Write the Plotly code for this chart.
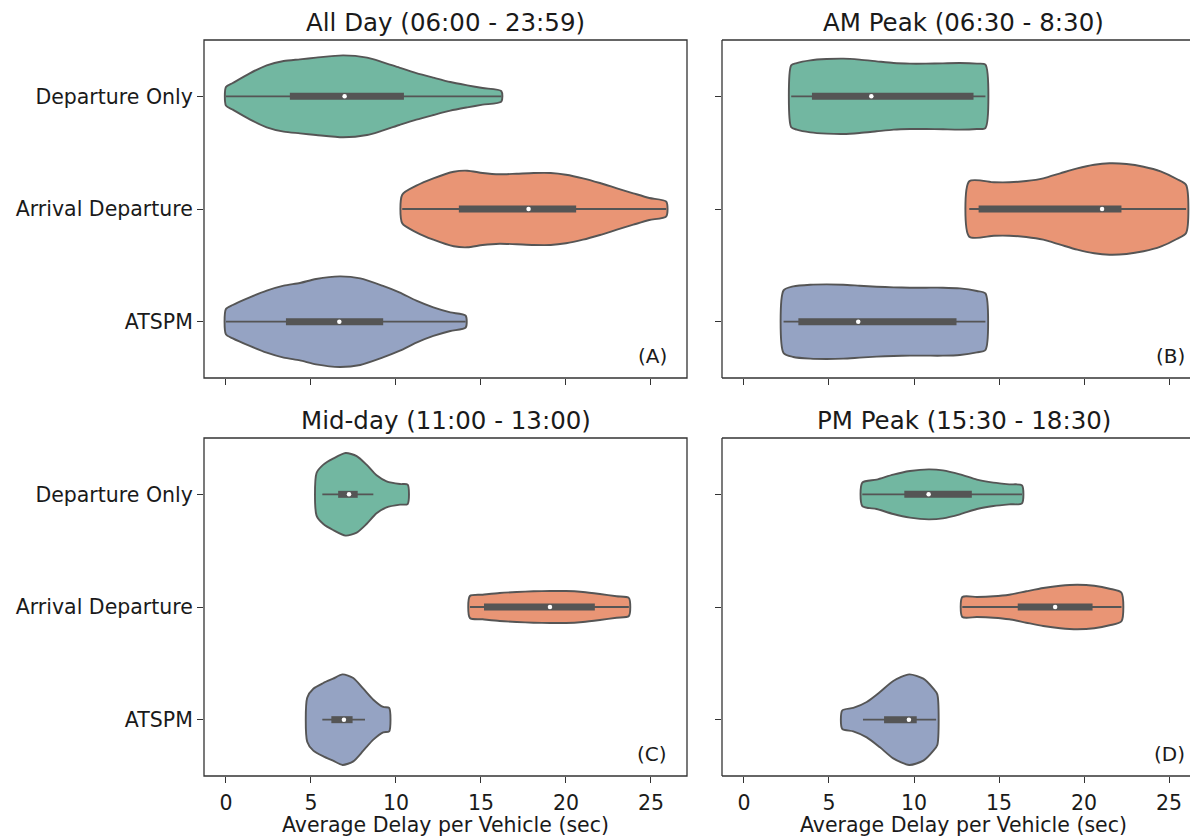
import plotly.graph_objects as go

# ---------------- data ----------------
categories = ["Departure Only", "Arrival Departure", "ATSPM"]
panel_titles = ["All Day (06:00 - 23:59)", "AM Peak (06:30 - 8:30)",
                "Mid-day (11:00 - 13:00)", "PM Peak (15:30 - 18:30)"]
panel_tags = ["(A)", "(B)", "(C)", "(D)"]
x_ticks = [0, 5, 10, 15, 20, 25]
x_label = "Average Delay per Vehicle (sec)"

# violin outlines: delay values and relative density (half-width)
A_dep_x = [0, 0.4, 1.4, 2.4, 3.4, 4.35, 5.3, 6.9, 8.3, 9.2, 10.2, 11.2, 12.2, 13.2, 14.2, 15.1, 16.2]
A_dep_d = [9.3, 13.3, 23, 31, 35.3, 37, 38.7, 41, 38.7, 34.3, 28.7, 23.3, 18.7, 14.3, 11, 8.3, 5.3]
A_arr_x = [10.37, 11.2, 12.2, 13.4, 14.2, 15.1, 16.1, 17.1, 18.1, 19.1, 20.0, 21.0, 22.0, 23.0, 23.96, 24.9, 25.9]
A_arr_d = [14.3, 23.3, 30.7, 37.3, 38.3, 36, 34.7, 35.3, 36, 36, 34.3, 30.7, 26, 20.7, 15.7, 11, 7.3]
A_ats_x = [0, 0.4, 1.4, 2.4, 3.4, 4.35, 5.3, 6.7, 7.9, 9.2, 10.2, 11.2, 12.2, 13.2, 14.1]
A_ats_d = [12.7, 16.7, 24.3, 31, 36, 38.7, 42.7, 45.3, 43.3, 36, 29.3, 21, 14.3, 9.3, 6]

B_dep_x = [2.78, 3.1, 3.9, 4.86, 5.84, 6.8, 7.8, 8.8, 9.76, 10.7, 11.7, 12.7, 13.7, 14.2]
B_dep_d = [31, 33.3, 36, 37.3, 37.7, 36.7, 35, 33.3, 32.7, 32.7, 33, 33.3, 32.7, 31.7]
B_arr_x = [13.25, 14.7, 15.6, 16.6, 17.6, 18.6, 19.6, 20.6, 21.5, 22.5, 23.5, 24.5, 25.45, 26.0]
B_arr_d = [27.7, 26.7, 26.7, 28, 30.7, 35.7, 40.7, 44.3, 45.7, 45, 42.3, 37.7, 30, 24]
B_ats_x = [2.33, 2.9, 3.9, 4.86, 5.84, 6.8, 7.8, 8.8, 9.76, 10.7, 11.7, 12.7, 13.7, 14.2]
B_ats_d = [31.3, 35.3, 37, 37.3, 37, 36, 35, 34.3, 34, 34, 34, 33.3, 30.7, 28.3]

C_dep_x = [5.33, 5.73, 6.3, 7.04, 7.69, 8.27, 8.86, 9.45, 10.24, 10.69]
C_dep_d = [21.3, 29.7, 35.7, 41.3, 38.3, 29.7, 19, 13, 10.3, 9.7]
C_arr_x = [14.35, 15.1, 16.1, 17.1, 18.1, 19.06, 20.0, 21.0, 22.0, 22.98, 23.7]
C_arr_d = [11, 12.3, 14, 15, 15.7, 16, 16, 15, 13, 10.7, 9]
C_ats_x = [4.78, 5.14, 5.73, 6.3, 6.86, 7.49, 8.08, 8.67, 9.25, 9.6]
C_ats_d = [22, 31, 36.7, 41, 45.3, 41.7, 31, 20, 12.7, 11.7]

D_dep_x = [6.96, 7.8, 8.78, 9.76, 10.86, 11.7, 12.7, 13.7, 14.67, 15.6, 16.35]
D_dep_d = [11.7, 14.7, 19.7, 23.3, 25, 24, 20, 14.7, 11.7, 10, 9]
D_arr_x = [12.84, 13.7, 14.67, 15.6, 16.6, 17.6, 18.6, 19.6, 20.6, 21.5, 22.2]
D_arr_d = [10, 10, 10.7, 12.3, 15.7, 19, 21.3, 22.3, 21.3, 18.3, 14.3]
D_ats_x = [5.78, 6.43, 7.22, 8.0, 8.78, 9.72, 10.55, 11.14, 11.37]
D_ats_d = [9.2, 11.7, 17.7, 27.7, 38.7, 45.3, 41, 31, 25.3]

# inner box stats: [whisker low, Q1, median, Q3, whisker high]
A_box = [[0, 3.76, 6.98, 10.47, 16.2], [10.37, 13.7, 17.8, 20.6, 25.9], [0, 3.53, 6.67, 9.25, 14.1]]
B_box = [[2.78, 4.0, 7.49, 13.5, 14.2], [13.25, 13.8, 21.06, 22.2, 26.0], [2.33, 3.2, 6.72, 12.5, 14.2]]
C_box = [[5.67, 6.6, 7.24, 7.75, 8.67], [14.35, 15.18, 19.06, 21.7, 23.7], [5.67, 6.2, 6.94, 7.45, 8.18]]
D_box = [[6.96, 9.43, 10.86, 13.4, 16.35], [12.84, 16.1, 18.3, 20.5, 22.2], [7.0, 8.24, 9.7, 10.16, 11.3]]

panels = [
    [(A_dep_x, A_dep_d), (A_arr_x, A_arr_d), (A_ats_x, A_ats_d)],
    [(B_dep_x, B_dep_d), (B_arr_x, B_arr_d), (B_ats_x, B_ats_d)],
    [(C_dep_x, C_dep_d), (C_arr_x, C_arr_d), (C_ats_x, C_ats_d)],
    [(D_dep_x, D_dep_d), (D_arr_x, D_arr_d), (D_ats_x, D_ats_d)],
]
boxes = [A_box, B_box, C_box, D_box]

# ---------------- style ----------------
FILL = ["#72b7a1", "#e99575", "#95a3c3"]
GRAY = "#555555"
AXC = "#333333"
TXT = "#1a1a1a"
FONT = "DejaVu Sans"
DENS_SCALE = 1 / 112.7  # density units -> category units

OFF = 8  # page body margin in the browser
W, H = 1198 - OFF, 837 - OFF
# panel pixel boxes in window coordinates (left, top, right, bottom)
px_boxes = [(204, 40, 687, 378), (722, 40, 1198, 378),
            (204, 438, 687, 776), (722, 438, 1198, 776)]
x_ranges = [[-1.29, 27.12], [-1.29, 26.7], [-1.29, 27.12], [-1.29, 26.7]]


def fx(px):
    return (px - OFF) / W


def fy(py):
    return 1 - (py - OFF) / H


fig = go.Figure()

for p in range(4):
    sfx = "" if p == 0 else str(p + 1)
    xa, ya = "x" + sfx, "y" + sfx
    for c in range(3):
        xs, ds = panels[p][c]
        hw = [d * DENS_SCALE for d in ds]
        px_ = xs + xs[::-1] + [xs[0]]
        py_ = [c - h for h in hw] + [c + h for h in hw[::-1]] + [c - hw[0]]
        fig.add_trace(go.Scatter(
            x=px_, y=py_, mode="lines", fill="toself", fillcolor=FILL[c],
            line=dict(color=GRAY, width=1.9, shape="spline", smoothing=0.7),
            xaxis=xa, yaxis=ya, showlegend=False, hoverinfo="skip"))
        lo, q1, med, q3, hi = boxes[p][c]
        fig.add_trace(go.Scatter(x=[lo, hi], y=[c, c], mode="lines",
                                 line=dict(color=GRAY, width=1.9),
                                 xaxis=xa, yaxis=ya, showlegend=False, hoverinfo="skip"))
        fig.add_trace(go.Scatter(x=[q1, q3], y=[c, c], mode="lines",
                                 line=dict(color=GRAY, width=7),
                                 xaxis=xa, yaxis=ya, showlegend=False, hoverinfo="skip"))
        fig.add_trace(go.Scatter(x=[med], y=[c], mode="markers",
                                 marker=dict(color="white", size=4.5, line=dict(width=0)),
                                 xaxis=xa, yaxis=ya, showlegend=False,
                                 hovertemplate=f"{categories[c]}<br>median %{{x}}<extra></extra>"))

layout = dict(width=W, height=H, margin=dict(l=0, r=0, t=0, b=0, pad=0, autoexpand=False),
              template=go.layout.Template(),
              paper_bgcolor="white", plot_bgcolor="white",
              font=dict(family=FONT, color=TXT, size=20))
annotations = []
shapes = []
for p in range(4):
    sfx = "" if p == 0 else str(p + 1)
    l, t, r, b = px_boxes[p]
    r = min(r, OFF + W)
    xd = [fx(l), fx(r)]
    yd = [fy(b), fy(t)]
    bottom_row = p >= 2
    left_col = p % 2 == 0
    layout["xaxis" + sfx] = dict(
        domain=xd, range=x_ranges[p], anchor="y" + sfx, automargin=False,
        tickmode="array", tickvals=x_ticks, ticks="outside", ticklen=6, tickwidth=1.3,
        tickcolor=AXC, showticklabels=bottom_row, showgrid=False, zeroline=False,
        showline=False, ticklabelstandoff=2,
        tickfont=dict(size=20.5, family=FONT, color=TXT))
    layout["yaxis" + sfx] = dict(
        domain=yd, range=[2.5, -0.5], anchor="x" + sfx, automargin=False,
        tickmode="array", tickvals=[0, 1, 2], ticktext=categories,
        ticks="outside", ticklen=6, tickwidth=1.3, tickcolor=AXC,
        showticklabels=left_col, showgrid=False, zeroline=False, showline=False,
        tickfont=dict(size=20.5, family=FONT, color=TXT))
    # frame
    xr = "x" + sfx + " domain"
    yr = "y" + sfx + " domain"
    if left_col:
        shapes.append(dict(type="rect", xref=xr, yref=yr, x0=0, x1=1, y0=0, y1=1,
                           line=dict(color=AXC, width=1.3), layer="above"))
    else:
        for (x0, y0, x1, y1) in [(0, 0, 0, 1), (0, 0, 1, 0), (0, 1, 1, 1)]:
            shapes.append(dict(type="line", xref=xr, yref=yr, x0=x0, x1=x1, y0=y0, y1=y1,
                               line=dict(color=AXC, width=1.3), layer="above"))
    cxp = (l + l + 483) / 2
    # title
    annotations.append(dict(text=panel_titles[p], xref="paper", yref="paper",
                            x=fx(cxp), y=fy(t - 18), xanchor="center", yanchor="middle",
                            showarrow=False, font=dict(size=24.5, family=FONT, color=TXT)))
    # panel tag
    annotations.append(dict(text=panel_tags[p], xref="paper", yref="paper",
                            x=fx(l + 465), y=fy(b - 22),
                            xanchor="right", yanchor="middle", showarrow=False,
                            font=dict(size=20, family=FONT, color=TXT)))
    # x axis label
    if bottom_row:
        annotations.append(dict(text=x_label, xref="paper", yref="paper",
                                x=fx(cxp), y=fy(825), xanchor="center", yanchor="middle",
                                showarrow=False, font=dict(size=20.5, family=FONT, color=TXT)))

layout["annotations"] = annotations
layout["shapes"] = shapes
fig.update_layout(**layout)
fig.write_html("out.html")
